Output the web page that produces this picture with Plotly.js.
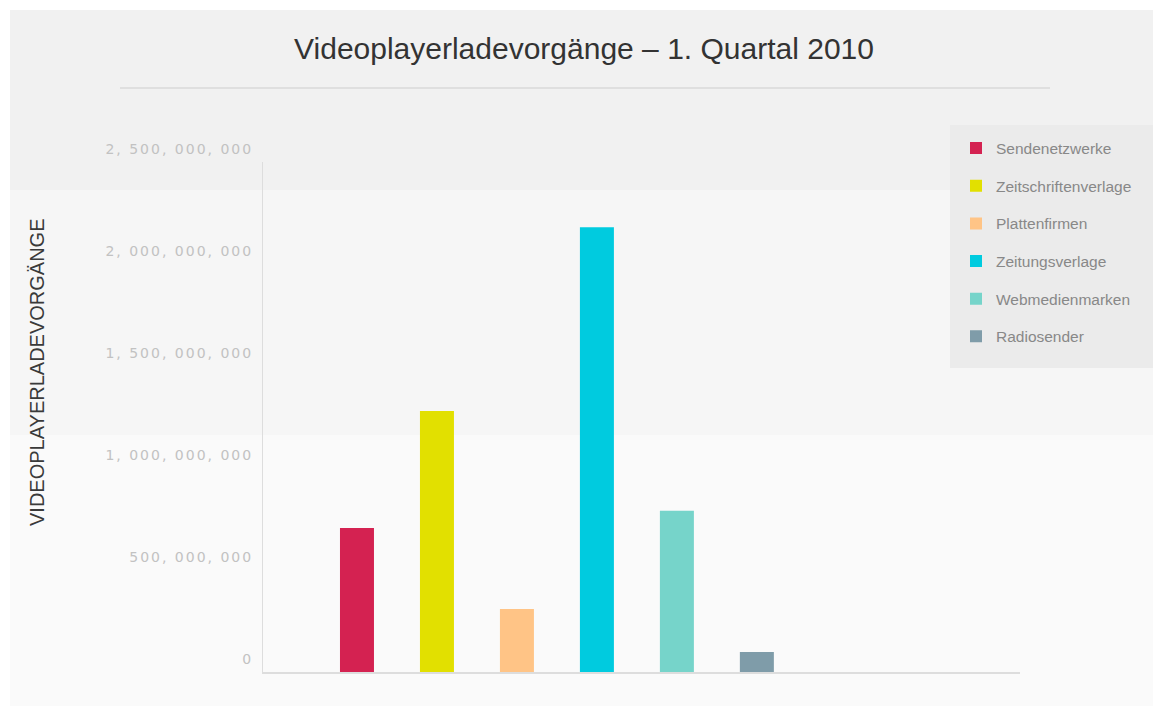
<!DOCTYPE html>
<html>
<head>
<meta charset="utf-8">
<script src="https://cdn.plot.ly/plotly-3.0.1.min.js"></script>
<style>
html,body{margin:0;padding:0;background:#ffffff;}
#chart{width:1153px;height:708px;}
#chart .ytick text{letter-spacing:2px;}
</style>
</head>
<body>
<div id="chart"></div>
<script>
// Data
const seriesNames = ["Sendenetzwerke","Zeitschriftenverlage","Plattenfirmen","Zeitungsverlage","Webmedienmarken","Radiosender"];
const seriesValues = [706000000, 1280000000, 309000000, 2180000000, 790000000, 98000000];
const seriesColors = ["#d42251","#e2e000","#ffc486","#00cbdf","#76d4ca","#7f9ca9"];
const tickValues = [0, 500000000, 1000000000, 1500000000, 2000000000, 2500000000];
const tickLabels = ["0","500, 000, 000","1, 000, 000, 000","1, 500, 000, 000","2, 000, 000, 000","2, 500, 000, 000"];
const chartTitle = "Videoplayerladevorgänge – 1. Quartal 2010";
const yTitle = "VIDEOPLAYERLADEVORGÄNGE";

const W = 1153, H = 708;
const L = 263, R = 133, T = 162, B = 36;
const pw = W - L - R, ph = H - T - B;
function px2x(p){ return (p - L) / pw; }
function py2y(p){ return (H - B - p) / ph; }

const traces = seriesNames.map((n, i) => ({
  type: "bar",
  name: n,
  x: [n],
  y: [seriesValues[i]],
  width: 0.425,
  marker: {color: seriesColors[i], line: {width: 0}},
  legendgroup: "g" + i,
  hoverinfo: "name+y"
}));

const shapes = [
  {type:"rect", xref:"paper", yref:"paper", x0:px2x(10), x1:px2x(1153), y0:py2y(10), y1:py2y(190), fillcolor:"#f1f1f1", line:{width:0}, layer:"below"},
  {type:"rect", xref:"paper", yref:"paper", x0:px2x(10), x1:px2x(1153), y0:py2y(190), y1:py2y(435), fillcolor:"#f6f6f6", line:{width:0}, layer:"below"},
  {type:"rect", xref:"paper", yref:"paper", x0:px2x(10), x1:px2x(1153), y0:py2y(435), y1:py2y(706), fillcolor:"#fafafa", line:{width:0}, layer:"below"},
  {type:"rect", xref:"paper", yref:"paper", x0:px2x(950), x1:px2x(1153), y0:py2y(125), y1:py2y(368), fillcolor:"#ebebeb", line:{width:0}, layer:"below"},
  {type:"line", xref:"paper", yref:"paper", x0:px2x(120), x1:px2x(1050), y0:py2y(88), y1:py2y(88), line:{color:"#d8d8d8", width:1.5}}
];

const layout = {
  width: W, height: H,
  margin: {l: L, r: R, t: T, b: B, pad: 0},
  paper_bgcolor: "#ffffff",
  plot_bgcolor: "rgba(0,0,0,0)",
  font: {family: "Liberation Sans, Arial, sans-serif", color: "#444"},
  title: {
    text: chartTitle,
    font: {family: "Liberation Sans, Arial, sans-serif", size: 30, color: "#333"},
    x: 584 / W, xanchor: "center", y: 1 - 48/H, yanchor: "middle"
  },
  showlegend: true,
  legend: {
    x: px2x(956), y: py2y(131.5), xanchor: "left", yanchor: "top",
    bgcolor: "rgba(0,0,0,0)", borderwidth: 0,
    font: {family: "Liberation Sans, Arial, sans-serif", size: 15.5, color: "#888"},
    traceorder: "grouped", tracegroupgap: 14.5,
    itemwidth: 30
  },
  annotations: [{
    text: yTitle, textangle: -90,
    xref: "paper", yref: "paper", x: px2x(37), y: py2y(372),
    xanchor: "center", yanchor: "middle", showarrow: false,
    font: {family: "Liberation Sans, Arial, sans-serif", size: 20, color: "#3a3a3a"}
  }],
  xaxis: {
    type: "category",
    range: [-1.175, 8.29],
    showticklabels: false, ticks: "",
    showgrid: false, zeroline: false,
    showline: true, linecolor: "#dddddd", linewidth: 1.5,
    fixedrange: true
  },
  yaxis: {
    range: [0, 2500000000],
    tickvals: tickValues, ticktext: tickLabels,
    tickfont: {family: "DejaVu Sans, sans-serif", size: 14, color: "#c2c2c2"},
    ticks: "", ticklabelstandoff: 6, ticklabelshift: -13,
    showgrid: false, zeroline: false,
    showline: true, linecolor: "#dddddd", linewidth: 1,
    fixedrange: true
  },
  barmode: "overlay",
  shapes: shapes
};

Plotly.newPlot("chart", traces, layout, {displayModeBar: false, staticPlot: true});
</script>
</body>
</html>
